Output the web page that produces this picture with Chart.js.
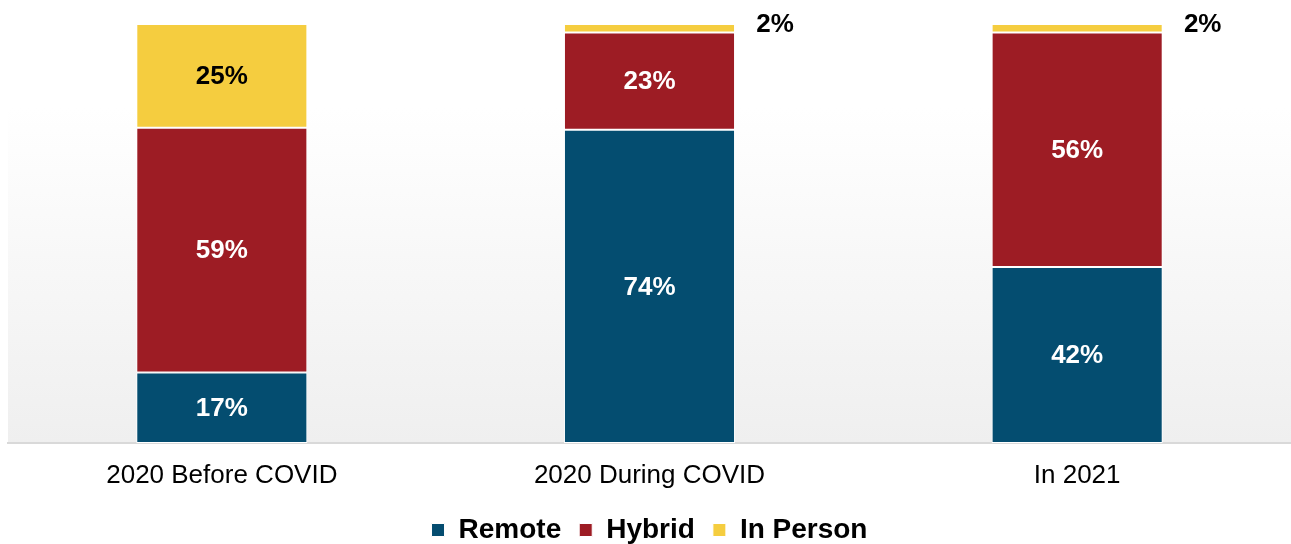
<!DOCTYPE html>
<html>
<head>
<meta charset="utf-8">
<script src="https://cdn.jsdelivr.net/npm/chart.js@4"></script>
<style>
  html, body { margin: 0; padding: 0; background: #ffffff; }
  #wrap { width: 1291px; height: 544px; }
</style>
</head>
<body>
<div id="wrap"><canvas id="workChart"></canvas></div>
<script>
const categories = ["2020 Before COVID", "2020 During COVID", "In 2021"];
const remote = [17, 74, 42];
const hybrid = [59, 23, 56];
const inPerson = [25, 2, 2];

const seriesNames = ["Remote", "Hybrid", "In Person"];
const seriesColors = ["#044d70", "#9d1c24", "#f5cd3f"];
const labelColors = ["#ffffff", "#ffffff", "#000000"];

// bars are 100% stacked, so each column is scaled to its own total
const totals = categories.map((c, i) => remote[i] + hybrid[i] + inPerson[i]);
function share(arr) {
    return arr.map((v, i) => v / totals[i] * 100);
}
const rawValues = [remote, hybrid, inPerson];

const plotBackground = {
    id: "plotBackground",
    beforeDraw(chart) {
        const { ctx, chartArea } = chart;
        const g = ctx.createLinearGradient(0, chartArea.top, 0, chartArea.bottom);
        g.addColorStop(0, "#ffffff");
        g.addColorStop(0.2, "#ffffff");
        g.addColorStop(1, "#efefef");
        ctx.save();
        ctx.fillStyle = g;
        ctx.fillRect(chartArea.left, chartArea.top, chartArea.right - chartArea.left, chartArea.bottom - chartArea.top);
        ctx.restore();
    }
};

const barLabels = {
    id: "barLabels",
    afterDatasetsDraw(chart) {
        const ctx = chart.ctx;
        ctx.save();
        ctx.font = "bold 26px 'Liberation Sans', Arial, sans-serif";
        ctx.textAlign = "center";
        ctx.textBaseline = "middle";
        chart.data.datasets.forEach((ds, di) => {
            chart.getDatasetMeta(di).data.forEach((bar, i) => {
                const text = rawValues[di][i] + "%";
                const h = bar.base - bar.y;
                if (h < 30) {
                    // small slice: label sits outside, to the upper right
                    ctx.fillStyle = "#000000";
                    ctx.fillText(text, bar.x + bar.width / 2 + 40, bar.y + 1);
                } else {
                    ctx.fillStyle = labelColors[di];
                    ctx.fillText(text, bar.x, bar.y + h / 2 + 1);
                }
            });
        });
        ctx.restore();
    }
};

const ctx = document.getElementById("workChart").getContext("2d");
new Chart(ctx, {
    type: "bar",
    data: {
        labels: categories,
        datasets: rawValues.map((arr, k) => ({
            label: seriesNames[k],
            data: share(arr),
            backgroundColor: seriesColors[k],
            borderColor: "#ffffff",
            borderWidth: 1,
            borderSkipped: false,
            barPercentage: 0.4,
            categoryPercentage: 1
        }))
    },
    options: {
        responsive: true,
        maintainAspectRatio: false,
        animation: false,
        layout: { padding: { top: 24, left: 8, right: 0, bottom: -10 } },
        scales: {
            x: {
                stacked: true,
                grid: { display: false, drawTicks: false },
                border: { color: "#d9d9d9", width: 2 },
                ticks: {
                    color: "#000000",
                    padding: 17,
                    font: { family: "'Liberation Sans', Arial, sans-serif", size: 26 }
                },
                afterFit(scale) { scale.height = 55; }
            },
            y: {
                stacked: true,
                display: false,
                min: 0,
                max: 100
            }
        },
        plugins: {
            legend: {
                position: "bottom",
                labels: {
                    color: "#000000",
                    boxWidth: 13,
                    boxHeight: 13,
                    padding: 18,
                    font: { family: "'Liberation Sans', Arial, sans-serif", size: 28, weight: "bold" }
                }
            },
            tooltip: { enabled: false }
        }
    },
    plugins: [plotBackground, barLabels]
});
</script>
</body>
</html>
